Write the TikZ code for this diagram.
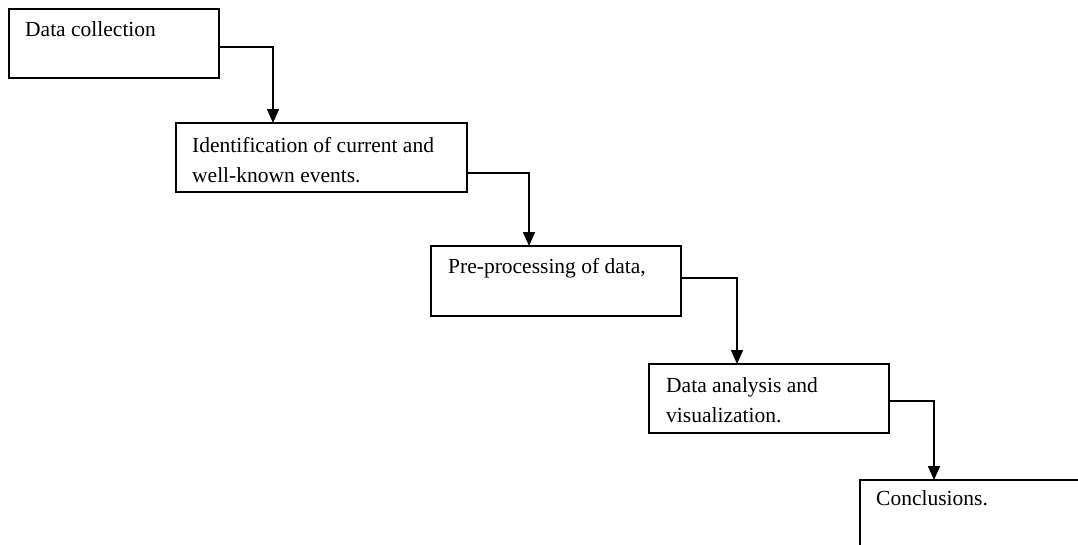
\documentclass[tikz,border=0pt]{standalone}
\usepackage{fontspec}
\setmainfont{Liberation Serif}
\usetikzlibrary{arrows.meta,calc}
\begin{document}
\begin{tikzpicture}[x=1pt,y=1pt,
  stepbox/.style={draw=black,line width=1.6pt,rectangle,anchor=north west,
    inner sep=0pt,outer sep=0pt},
  boxtext/.style={anchor=base west,inner sep=0pt,align=left,
    font=\fontsize{21.5}{30}\selectfont},
  conn/.style={draw=black,line width=1.6pt,
    -{Triangle[width=12pt,length=14pt]}}]
\useasboundingbox (0,0) rectangle (1078,-544);
\clip (0,0) rectangle (1078,-544);
\fill[white] (0,0) rectangle (1078,-544);

% process boxes
\node[stepbox,minimum width=210pt,minimum height=69pt] (b1) at (9,-9) {};
\node[stepbox,minimum width=291pt,minimum height=69pt] (b2) at (176,-123) {};
\node[stepbox,minimum width=250pt,minimum height=70pt] (b3) at (431,-246) {};
\node[stepbox,minimum width=240pt,minimum height=69pt] (b4) at (649,-364) {};
\node[stepbox,minimum width=260pt,minimum height=90pt] (b5) at (860,-480) {};

% box labels (the base anchor of a two-line label sits on its last line)
\node[boxtext] (t1) at ($(b1.north west)+(16,-27)$) {Data collection};
\node[boxtext] (t2) at ($(b2.north west)+(16,-59)$) {Identification of current and\\well-known events.};
\node[boxtext] (t3) at ($(b3.north west)+(17,-27)$) {Pre-processing of data,};
\node[boxtext] (t4) at ($(b4.north west)+(17,-58)$) {Data analysis and\\visualization.};
\node[boxtext] (t5) at ($(b5.north west)+(16,-25)$) {Conclusions.};

% connectors
\draw[conn] ([yshift=-3.5pt]b1.east) -| ([xshift=-48.5pt]b2.north);
\draw[conn] ([yshift=-15.5pt]b2.east) -| ([xshift=-27pt]b3.north);
\draw[conn] ([yshift=3pt]b3.east) -| ([xshift=-32pt]b4.north);
\draw[conn] ([yshift=-2.5pt]b4.east) -| ([xshift=-56pt]b5.north);
\end{tikzpicture}
\end{document}
